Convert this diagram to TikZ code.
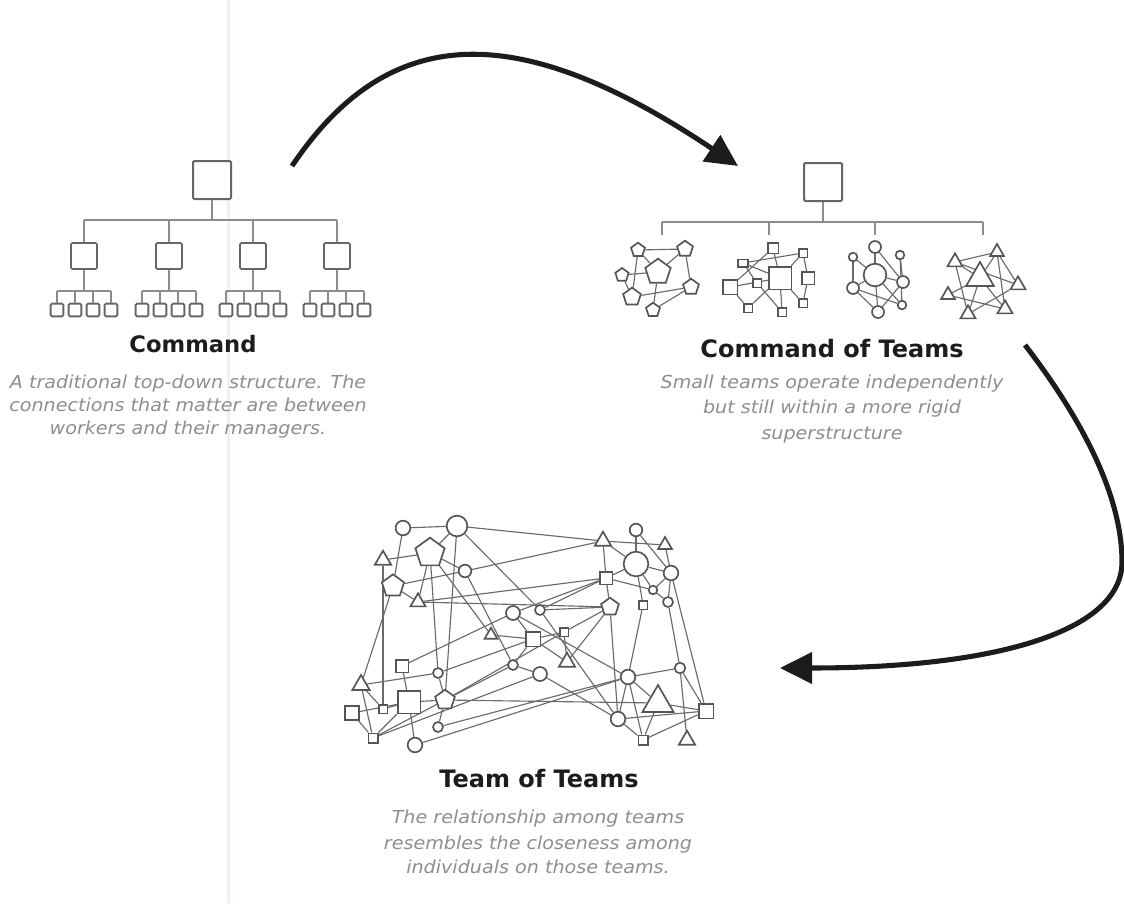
\documentclass[tikz,border=0pt]{standalone}
\usepackage{fontspec}
\usetikzlibrary{shapes.geometric,arrows.meta,backgrounds}
\newfontfamily\headfont{DejaVu Sans}
\newfontfamily\notefont{DejaVu Sans}[FakeStretch=1.07]

\definecolor{ink}{HTML}{1C1C1C}
\definecolor{boxgray}{HTML}{666666}
\definecolor{linegray}{HTML}{8C8C8C}
\definecolor{netgray}{HTML}{555555}
\definecolor{edgegray}{HTML}{6A6A6A}
\definecolor{notegray}{HTML}{8E8E8E}
\definecolor{crease}{HTML}{F8EEEB}

\tikzset{
  orgbox/.style={draw=boxgray, rectangle, rounded corners=1pt, inner sep=0pt, fill=white},
  bigbox/.style={orgbox, minimum size=28.5pt, line width=1.5pt},
  midbox/.style={orgbox, minimum size=19.5pt, line width=1.4pt},
  tinybox/.style={orgbox, minimum size=9.5pt, line width=1.4pt},
  tree/.style={draw=linegray, line width=1.1pt},
  member/.style={draw=netgray, fill=white, line width=1.25pt, inner sep=0pt},
  ci/.style={member, circle, minimum size=#1},
  sq/.style={member, rectangle, minimum size=#1},
  tri/.style={member, regular polygon, regular polygon sides=3, minimum size=#1},
  pent/.style={member, regular polygon, regular polygon sides=5, minimum size=#1},
  link/.style={draw=edgegray, line width=0.85pt},
  flow/.style={draw=ink, line width=3.8pt, -{Triangle[length=24pt,width=23pt]}},
  headline/.style={font=\headfont\bfseries\fontsize{18}{20}\selectfont, text=ink, anchor=base, inner sep=0pt},
  noteline/.style={font=\notefont\itshape\fontsize{13.4}{16}\selectfont, text=notegray, anchor=base, inner sep=0pt},
}

\begin{document}
\begin{tikzpicture}[x=0.75pt,y=-0.75pt]
\useasboundingbox (0,0) rectangle (1124,903);
\begin{scope}[on background layer]
  \fill[white] (0,0) rectangle (1124,903);
  \fill[crease] (227,0) rectangle (229.5,903);
\end{scope}

% ---------- Command: a plain hierarchy ----------
\node[bigbox] (cmd) at (212,180) {};
\coordinate (cbar) at (0,220);
\foreach \i/\x in {1/84,2/169,3/253,4/337}{
  \node[midbox] (m\i) at (\x,256) {};
  \coordinate (sbar\i) at (0,291);
  \foreach \j/\d in {1/-27,2/-9,3/9,4/27}{
    \node[tinybox] (s\i\j) at (\x+\d,310) {};
    \draw[tree] (s\i\j.north) -- (s\i\j.north |- sbar\i);
  }
  \draw[tree] (m\i.north) -- (m\i.north |- cbar);
  \draw[tree] (m\i.south) -- (m\i.south |- sbar\i);
  \draw[tree] (s\i1.north |- sbar\i) -- (s\i4.north |- sbar\i);
}
\draw[tree] (cmd.south) -- (cmd.south |- cbar);
\draw[tree] (m1.north |- cbar) -- (m4.north |- cbar);

\node[headline, font=\headfont\bfseries\fontsize{17}{20}\selectfont] (cmdT) at (193,352) {Command};
\node[noteline] (cmdN1) at (188,388) {A traditional top-down structure. The};
\node[noteline] (cmdN2) at (188,411) {connections that matter are between};
\node[noteline] (cmdN3) at (188,434) {workers and their managers.};

% ---------- Command of Teams ----------
\node[bigbox] (cot) at (823,182) {};
\coordinate (tbar) at (0,222);
\foreach \k/\x in {1/662,2/769,3/875,4/983}{
  \coordinate (td\k) at (\x,235);
  \draw[tree] (td\k) -- (td\k |- tbar);
}
\draw[tree] (cot.south) -- (cot.south |- tbar);
\draw[tree] (td1 |- tbar) -- (td4 |- tbar);

% team of pentagons
\node[pent=11pt] (a1) at (638,250) {};
\node[pent=12.5pt] (a2) at (685,249) {};
\node[pent=10.5pt] (a3) at (622,275) {};
\node[pent=20pt] (a4) at (658,272) {};
\node[pent=12.5pt] (a5) at (691,287) {};
\node[pent=14pt] (a6) at (632,297) {};
\node[pent=11pt] (a7) at (653,310) {};
% team of squares
\node[sq=8pt] (b1) at (773,248) {};
\node[sq=6.5pt] (b2) at (803,253) {};
\node[member, rectangle, minimum width=7.5pt, minimum height=5.5pt] (b3) at (743,263) {};
\node[sq=17pt] (b4) at (780,278) {};
\node[sq=6.5pt] (b5) at (757,283) {};
\node[sq=9.5pt] (b6) at (808,278) {};
\node[sq=11pt] (b7) at (730,287) {};
\node[sq=6.5pt] (b8) at (748,308) {};
\node[sq=6.5pt] (b9) at (782,312) {};
\node[sq=6.5pt] (b10) at (803,303) {};
% team of circles
\node[ci=9pt] (c1) at (875,247) {};
\node[ci=6.5pt] (c2) at (853,257) {};
\node[ci=6.5pt] (c3) at (900,255) {};
\node[ci=17pt] (c4) at (875,275) {};
\node[ci=9pt] (c5) at (903,282) {};
\node[ci=9pt] (c6) at (853,288) {};
\node[ci=9pt] (c7) at (878,312) {};
\node[ci=6.5pt] (c8) at (902,305) {};
% team of triangles
\node[tri=13pt] (e1) at (955,262) {};
\node[tri=12pt] (e2) at (997,252) {};
\node[tri=24pt] (e3) at (980,278) {};
\node[tri=13pt] (e4) at (1018,285) {};
\node[tri=12pt] (e5) at (948,295) {};
\node[tri=13pt] (e6) at (968,314) {};
\node[tri=13pt] (e7) at (1005,309) {};

\begin{scope}[on background layer]
  \foreach \p/\q in {a1/a2,a1/a6,a2/a5,a3/a4,a6/a5,a7/a5,a4/a7,a1/a4,a2/a4,a3/a6}
    \draw[link] (\p) -- (\q);
  \foreach \p/\q in {b1/b4,b2/b4,b2/b6,b3/b4,b3/b5,b7/b4,b7/b8,b8/b4,b9/b4,b10/b4,b6/b10,b3/b2,b5/b9,b7/b1}
    \draw[link] (\p) -- (\q);
  \foreach \p/\q in {c1/c4,c2/c4,c2/c6,c6/c4,c4/c7,c6/c7,c3/c8,c4/c8,c6/c8,c1/c5,c7/c5,c3/c5,c4/c5}
    \draw[link] (\p) -- (\q);
  \foreach \p/\q in {e1/e2,e1/e3,e2/e3,e1/e6,e5/e3,e3/e6,e3/e7,e4/e6,e2/e7,e1/e4,e5/e7,e2/e4}
    \draw[link] (\p) -- (\q);
\end{scope}

\node[headline] (cotT) at (832,357) {Command of Teams};
\node[noteline] (cotN1) at (832,388) {Small teams operate independently};
\node[noteline] (cotN2) at (832,413.5) {but still within a more rigid};
\node[noteline] (cotN3) at (832,439) {superstructure};

% ---------- Team of Teams ----------
\node[ci=11pt] (n1) at (403,528) {};
\node[ci=15.5pt] (n2) at (457,526) {};
\node[tri=14pt] (n3) at (383,560) {};
\node[pent=23pt] (n4) at (430,553) {};
\node[ci=9.5pt] (n5) at (465,571) {};
\node[pent=17.5pt] (n6) at (393,586) {};
\node[tri=13pt] (n7) at (418,602) {};
\node[ci=10.5pt] (n8) at (513,613) {};
\node[ci=7.5pt] (n9) at (540,610) {};
\node[tri=11pt] (n10) at (491,635) {};
\node[sq=11pt] (n11) at (533,639) {};
\node[sq=6.5pt] (n12) at (564,632) {};
\node[tri=14pt] (n13) at (567,662) {};
\node[ci=7.5pt] (n14) at (513,665) {};
\node[ci=10.5pt] (n15) at (540,674) {};
\node[tri=14pt] (n16) at (603,541) {};
\node[ci=9.5pt] (n17) at (636,530) {};
\node[tri=12pt] (n18) at (665,545) {};
\node[ci=18.5pt] (n19) at (636,564) {};
\node[sq=9.5pt] (n20) at (606,578) {};
\node[ci=11pt] (n21) at (671,573) {};
\node[ci=6.5pt] (n22) at (653,590) {};
\node[pent=14pt] (n23) at (610,607) {};
\node[sq=6.5pt] (n24) at (643,605) {};
\node[ci=7.5pt] (n25) at (668,602) {};
\node[sq=9.5pt] (n26) at (402,666) {};
\node[tri=15pt] (n27) at (361,685) {};
\node[ci=7.5pt] (n28) at (438,673) {};
\node[sq=17pt] (n29) at (409,702) {};
\node[pent=15.5pt] (n30) at (445,700) {};
\node[sq=6.5pt] (n31) at (383,709) {};
\node[sq=10.5pt] (n32) at (352,713) {};
\node[ci=7.5pt] (n33) at (438,727) {};
\node[sq=7pt] (n34) at (373,738) {};
\node[ci=11pt] (n35) at (415,745) {};
\node[ci=11pt] (n36) at (628,677) {};
\node[ci=8pt] (n37) at (680,668) {};
\node[tri=27pt] (n38) at (658,703) {};
\node[sq=11pt] (n39) at (706,711) {};
\node[ci=11pt] (n40) at (618,719) {};
\node[sq=7pt] (n41) at (643,740) {};
\node[tri=14pt] (n42) at (687,740) {};

\begin{scope}[on background layer]
  \foreach \p/\q in {n1/n2,n1/n6,n2/n4,n2/n16,n2/n9,n2/n30,n3/n4,n3/n31,n4/n5,n4/n28,
      n4/n10,n4/n7,n5/n16,n5/n6,n5/n14,n6/n27,n6/n7,n7/n20,n7/n23,n8/n20,n8/n11,
      n9/n20,n9/n23,n9/n40,n8/n36,n10/n11,n11/n12,n11/n13,n11/n14,n12/n23,n12/n13,
      n13/n23,n14/n15,n15/n40,n16/n20,n16/n19,n16/n18,n17/n19,n18/n21,n19/n20,
      n19/n22,n19/n24,n19/n21,n20/n22,n20/n23,n21/n22,n21/n25,n21/n39,n22/n25,
      n23/n40,n24/n36,n25/n37,n26/n29,n27/n28,n27/n31,n27/n34,n28/n11,n28/n30,
      n29/n30,n29/n31,n29/n32,n29/n34,n29/n35,n30/n14,n30/n12,n30/n33,n30/n38,
      n32/n34,n33/n36,n34/n30,n34/n15,n35/n36,n36/n37,n36/n38,n36/n40,n36/n41,
      n37/n42,n37/n39,n38/n39,n40/n39,n41/n39,n41/n38,n40/n41,n17/n21,n26/n8}
    \draw[link] (\p) -- (\q);
\end{scope}

\node[headline] (totT) at (539,787) {Team of Teams};
\node[noteline] (totN1) at (538,823) {The relationship among teams};
\node[noteline] (totN2) at (538,849) {resembles the closeness among};
\node[noteline] (totN3) at (538,873) {individuals on those teams.};

% ---------- the two transitions ----------
\coordinate (fa0) at (292,166);
\coordinate (fa1) at (738,166);
\draw[flow] (fa0) .. controls (390,20) and (520,20) .. (fa1);

\coordinate (fb0) at (1025,345);
\coordinate (fb1) at (1122,562);
\coordinate (fb2) at (780,668);
\draw[flow] (fb0) .. controls (1075,410) and (1122,490) .. (fb1)
                  .. controls (1122,630) and (1000,668) .. (fb2);
\end{tikzpicture}
\end{document}
